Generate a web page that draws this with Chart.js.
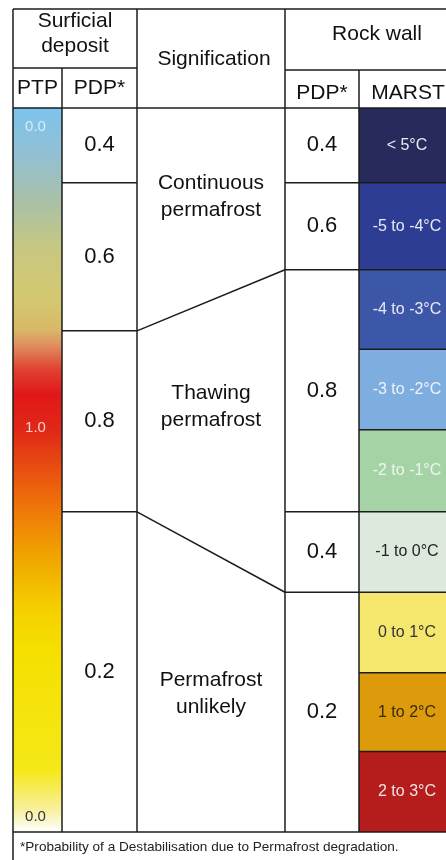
<!DOCTYPE html>
<html>
<head>
<meta charset="utf-8">
<script src="https://cdn.jsdelivr.net/npm/chart.js@4/dist/chart.umd.min.js"></script>
<style>
  html, body { margin: 0; padding: 0; background: #fff; }
  canvas { display: block; }
</style>
</head>
<body>
<canvas id="chart" width="446" height="860"></canvas>
<script>
// data (vertical unit = one MARST class, 0 = top of table body, 9 = bottom)
const marstClasses = ['< 5°C', '-5 to -4°C', '-4 to -3°C', '-3 to -2°C', '-2 to -1°C', '-1 to 0°C', '0 to 1°C', '1 to 2°C', '2 to 3°C'];
const marstBreaks = [0, 0.93, 2.01, 3.0, 4.0, 5.02, 6.02, 7.02, 8.0, 9.0];
const rockPdp = ['0.4', '0.6', '0.8', '0.4', '0.2'];
const rockPdpBreaks = [0, 0.93, 2.01, 5.02, 6.02, 9];
const surfPdp = ['0.4', '0.6', '0.8', '0.2'];
const surfPdpBreaks = [0, 0.93, 2.77, 5.02, 9];
const significations = [['Continuous', 'permafrost'], ['Thawing', 'permafrost'], ['Permafrost', 'unlikely']];
const ptpTicks = ['0.0', '1.0', '0.0'];
const ptpTickPos = [0.24, 3.98, 8.81];

// layout
const cols = [13, 62, 137, 285, 359, 460];
const yTop = -1.231, ySurfSub = -0.497, yRockSub = -0.472;
const sigLabelPos = [1.1, 3.71, 7.28];

// styles
const lineColor = '#1c1c1c';
const marstColors = ['#262b5c', '#2c3d93', '#3d57a8', '#7eaedf', '#a6d3a6', '#dce9dc', '#f5e66e', '#dd9b0c', '#b51d1d'];
const marstText = ['#e8eaf2', '#e8eaf2', '#e8eaf2', '#eef3f8', '#eef5ee', '#222', '#333', '#3a2a10', '#f3e3e3'];
const ptpStops = [
  [0, '#7cc4ec'], [0.058, '#90c0d8'], [0.127, '#a8c0a8'], [0.196, '#c8c880'],
  [0.265, '#d4c870'], [0.307, '#d8b868'], [0.327, '#e09060'], [0.362, '#e04030'],
  [0.396, '#e01818'], [0.445, '#e02818'], [0.5, '#e85010'], [0.555, '#f07808'],
  [0.624, '#f0a800'], [0.693, '#f5d000'], [0.749, '#f5e000'], [0.914, '#f5e818'],
  [0.97, '#f8f0a0'], [1, '#ffffff']
];
const FONT = '"Liberation Sans", Arial, sans-serif';

const tablePlugin = {
  id: 'table',
  beforeDatasetsDraw(chart) {
    const { ctx, scales: { x, y } } = chart;
    const X = v => x.getPixelForValue(v);
    const Y = v => y.getPixelForValue(v);
    ctx.save();

    // PTP colour bar
    const g = ctx.createLinearGradient(0, Y(0), 0, Y(9));
    ptpStops.forEach(([o, c]) => g.addColorStop(o, c));
    ctx.fillStyle = g;
    ctx.fillRect(X(cols[0]), Y(0), X(cols[1]) - X(cols[0]), Y(9) - Y(0));

    // MARST cells
    marstClasses.forEach((lab, i) => {
      ctx.fillStyle = marstColors[i];
      ctx.fillRect(X(cols[4]), Y(marstBreaks[i]), X(cols[5]) - X(cols[4]), Y(marstBreaks[i + 1]) - Y(marstBreaks[i]));
    });

    // grid
    ctx.strokeStyle = lineColor;
    ctx.lineWidth = 1.5;
    const seg = (x0, y0, x1, y1) => {
      ctx.beginPath();
      ctx.moveTo(X(x0), Y(y0));
      ctx.lineTo(X(x1), Y(y1));
      ctx.stroke();
    };
    seg(cols[0], yTop, cols[5], yTop);
    seg(cols[0], 0, cols[5], 0);
    seg(cols[0], 9, cols[5], 9);
    seg(cols[0], ySurfSub, cols[2], ySurfSub);
    seg(cols[3], yRockSub, cols[5], yRockSub);
    seg(cols[0], yTop, cols[0], 9.5);
    seg(cols[1], ySurfSub, cols[1], 9);
    seg(cols[2], yTop, cols[2], 9);
    seg(cols[3], yTop, cols[3], 9);
    seg(cols[4], yRockSub, cols[4], 9);
    surfPdpBreaks.slice(1, -1).forEach(b => seg(cols[1], b, cols[2], b));
    rockPdpBreaks.slice(1, -1).forEach(b => seg(cols[3], b, cols[4], b));
    marstBreaks.slice(1, -1).forEach(b => seg(cols[4], b, cols[5], b));
    ctx.restore();
  },
  afterDatasetsDraw(chart) {
    const { ctx, scales: { x, y } } = chart;
    const X = v => x.getPixelForValue(v);
    const Y = v => y.getPixelForValue(v);
    const text = (s, xv, yv, size, color, align) => {
      ctx.font = size + 'px ' + FONT;
      ctx.fillStyle = color;
      ctx.textAlign = align || 'center';
      ctx.textBaseline = 'middle';
      ctx.fillText(s, X(xv), Y(yv));
    };
    ctx.save();
    const mid = (a, b) => (a + b) / 2;

    // header
    text('Surficial', mid(cols[0], cols[2]), -1.08, 21, '#111');
    text('deposit', mid(cols[0], cols[2]), -0.77, 21, '#111');
    text('PTP', mid(cols[0], cols[1]), -0.24, 21, '#111');
    text('PDP*', mid(cols[1], cols[2]), -0.24, 21, '#111');
    text('Signification', mid(cols[2], cols[3]) + 3, -0.61, 21, '#111');
    text('Rock wall', 377, -0.92, 21, '#111');
    text('PDP*', mid(cols[3], cols[4]), -0.19, 21, '#111');
    text('MARST', 408, -0.19, 21, '#111');

    // PTP ticks
    const ptpColors = ['#d6ecf8', '#f8d0c8', '#333'];
    ptpTicks.forEach((t, i) => text(t, mid(cols[0], cols[1]) - 2, ptpTickPos[i], 15, ptpColors[i]));

    // surficial PDP
    surfPdp.forEach((v, i) => text(v, mid(cols[1], cols[2]), mid(surfPdpBreaks[i], surfPdpBreaks[i + 1]), 22, '#111'));
    // rock PDP
    rockPdp.forEach((v, i) => text(v, mid(cols[3], cols[4]), mid(rockPdpBreaks[i], rockPdpBreaks[i + 1]), 22, '#111'));
    // signification
    significations.forEach((lines, i) => {
      text(lines[0], mid(cols[2], cols[3]), sigLabelPos[i] - 0.165, 21, '#111');
      text(lines[1], mid(cols[2], cols[3]), sigLabelPos[i] + 0.165, 21, '#111');
    });
    // MARST
    marstClasses.forEach((lab, i) => text(lab, 407, mid(marstBreaks[i], marstBreaks[i + 1]), 16, marstText[i]));

    // footnote
    text('*Probability of a Destabilisation due to Permafrost degradation.', 20, 9.19, 13.6, '#222', 'left');
    ctx.restore();
  }
};

new Chart(document.getElementById('chart'), {
  type: 'scatter',
  data: {
    datasets: [
      {
        data: [{ x: cols[2], y: surfPdpBreaks[2] }, { x: cols[3], y: rockPdpBreaks[2] }],
        showLine: true, borderColor: lineColor, borderWidth: 1.5, pointRadius: 0
      },
      {
        data: [{ x: cols[2], y: surfPdpBreaks[3] }, { x: cols[3], y: rockPdpBreaks[4] }],
        showLine: true, borderColor: lineColor, borderWidth: 1.5, pointRadius: 0
      }
    ]
  },
  options: {
    responsive: false,
    devicePixelRatio: 1,
    animation: false,
    layout: { padding: 0 },
    plugins: { legend: { display: false }, tooltip: { enabled: false } },
    scales: {
      x: { type: 'linear', min: 0, max: 446, display: false },
      y: { type: 'linear', min: -1.3425, max: 9.348, reverse: true, display: false }
    }
  },
  plugins: [tablePlugin]
});
</script>
</body>
</html>
